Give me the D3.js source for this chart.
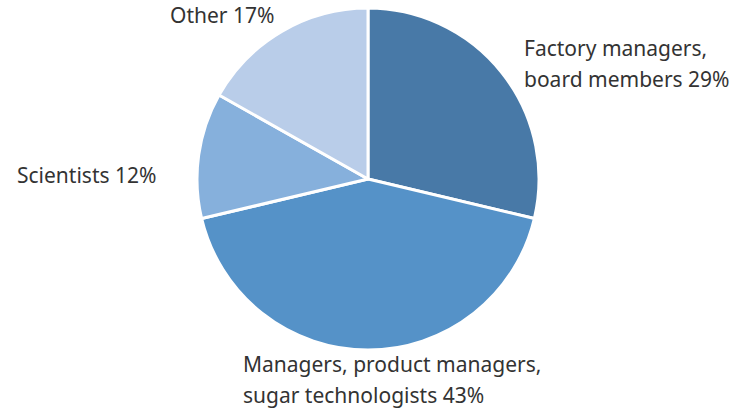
<!DOCTYPE html>
<html>
<head>
<meta charset="utf-8">
<script src="https://cdn.jsdelivr.net/npm/d3@7"></script>
<style>
  body { margin: 0; background: #fff; }
  text { font-family: "Source Sans Pro", "Noto Sans", sans-serif; font-size: 21px; fill: #333; }
</style>
</head>
<body>
<div class="js-chart"></div>
<script>
// Slices, clockwise from 12 o'clock
const categories = ["Factory managers, board members", "Managers, product managers, sugar technologists", "Scientists", "Other"];
const values = [29, 43, 12, 17];
const labelLines = [
  ["Factory managers,", "board members 29%"],
  ["Managers, product managers,", "sugar technologists 43%"],
  ["Scientists 12%"],
  ["Other 17%"]
];
const colors = ["#4879a7", "#5592c8", "#86b0dc", "#b9cde9"];

// where each label's first baseline sits (left edge x, baseline y)
const labelAt = [[524, 56], [243, 372], [17, 183], [170, 23]];

const width = 748, height = 415;
const cx = 368, cy = 179, radius = 171;

const svg = d3.select(".js-chart").append("svg")
  .attr("width", width).attr("height", height);

const pie = d3.pie().sort(null).value(d => d);
const arc = d3.arc().innerRadius(0).outerRadius(radius);

const g = svg.append("g").attr("transform", "translate(" + cx + "," + cy + ")");

g.selectAll("path")
  .data(pie(values))
  .enter()
  .append("path")
  .attr("d", arc)
  .attr("fill", (d, i) => colors[i])
  .attr("stroke", "#fff")
  .attr("stroke-width", 3)
  .attr("stroke-linejoin", "round");

const labels = svg.selectAll("text.label")
  .data(categories)
  .enter()
  .append("text")
  .attr("class", "label")
  .attr("x", (d, i) => labelAt[i][0])
  .attr("y", (d, i) => labelAt[i][1]);

labels.each(function (d, i) {
  const t = d3.select(this);
  labelLines[i].forEach((line, j) => {
    t.append("tspan")
      .attr("x", labelAt[i][0])
      .attr("dy", j === 0 ? 0 : 31)
      .text(line);
  });
});
</script>
</body>
</html>
